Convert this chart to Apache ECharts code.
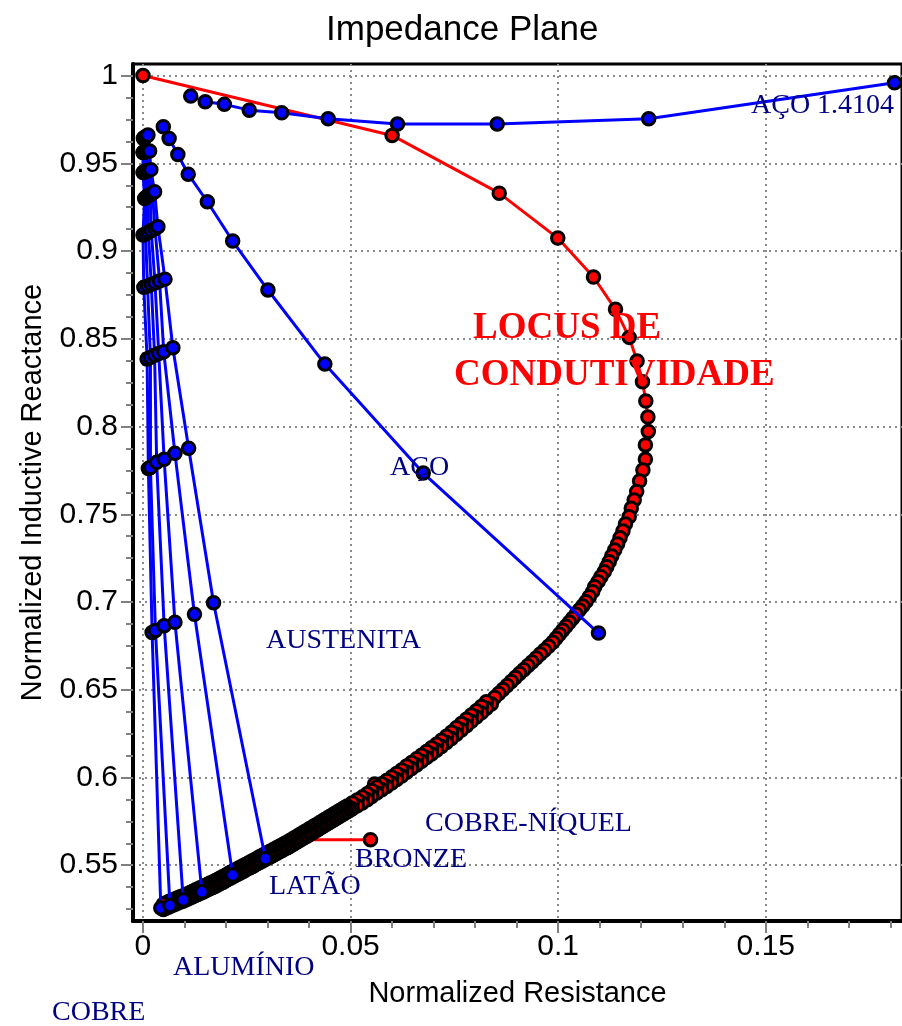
<!DOCTYPE html>
<html>
<head>
<meta charset="utf-8">
<title>Impedance Plane</title>
<script src="https://cdn.jsdelivr.net/npm/echarts@6/dist/echarts.min.js"></script>
<style>
  html, body { margin: 0; padding: 0; background: #ffffff; }
  #chart { width: 902px; height: 1026px; }
</style>
</head>
<body>
<div id="chart"></div>
<script>
// Tick positions of the two axes
const xTicks = [0, 0.05, 0.1, 0.15];
const yTicks = [0.55, 0.6, 0.65, 0.7, 0.75, 0.8, 0.85, 0.9, 0.95, 1];

// Conductivity locus [normalized resistance, normalized reactance]
// (sparse near the air point, very dense towards high conductivity)
const locus = [
  [0.0000, 1.0000], [0.0600, 0.9659], [0.0858, 0.9330], [0.0999, 0.9074], [0.1085, 0.8852],
  [0.1138, 0.8668], [0.1171, 0.8508], [0.1190, 0.8373], [0.1203, 0.8255], [0.1211, 0.8145],
  [0.1216, 0.8054], [0.1217, 0.7972], [0.1210, 0.7895], [0.1210, 0.7813], [0.1204, 0.7752],
  [0.1196, 0.7689], [0.1189, 0.7629], [0.1183, 0.7581], [0.1176, 0.7534], [0.1171, 0.7486],
  [0.1162, 0.7444], [0.1156, 0.7405], [0.1149, 0.7366], [0.1143, 0.7330], [0.1136, 0.7296],
  [0.1129, 0.7262], [0.1123, 0.7230], [0.1117, 0.7201], [0.1111, 0.7173], [0.1103, 0.7144],
  [0.1096, 0.7116], [0.1088, 0.7087], [0.1083, 0.7059], [0.1075, 0.7030], [0.1067, 0.7002],
  [0.1059, 0.6977], [0.1051, 0.6954], [0.1043, 0.6930], [0.1035, 0.6907], [0.1027, 0.6884],
  [0.1019, 0.6862], [0.1011, 0.6839], [0.1003, 0.6816], [0.0995, 0.6793], [0.0987, 0.6770],
  [0.0977, 0.6748], [0.0967, 0.6725], [0.0957, 0.6704], [0.0947, 0.6681], [0.0937, 0.6658],
  [0.0927, 0.6637], [0.0917, 0.6614], [0.0907, 0.6593], [0.0897, 0.6570], [0.0887, 0.6547],
  [0.0877, 0.6524], [0.0867, 0.6501], [0.0857, 0.6479], [0.0847, 0.6456],
  [0.0839, 0.6419], [0.0827, 0.6431], [0.0827, 0.6394], [0.0815, 0.6405], [0.0815, 0.6368],
  [0.0803, 0.6380], [0.0803, 0.6344], [0.0791, 0.6356], [0.0791, 0.6320], [0.0779, 0.6332],
  [0.0779, 0.6295], [0.0767, 0.6307], [0.0767, 0.6271], [0.0755, 0.6283], [0.0755, 0.6246],
  [0.0743, 0.6258], [0.0743, 0.6222], [0.0731, 0.6235], [0.0731, 0.6199], [0.0719, 0.6212],
  [0.0719, 0.6177], [0.0707, 0.6190], [0.0707, 0.6155], [0.0695, 0.6169], [0.0695, 0.6134],
  [0.0683, 0.6148], [0.0683, 0.6113], [0.0671, 0.6127], [0.0671, 0.6092], [0.0659, 0.6106],
  [0.0659, 0.6071], [0.0647, 0.6085], [0.0647, 0.6051], [0.0635, 0.6065], [0.0635, 0.6030],
  [0.0623, 0.6043], [0.0623, 0.6008], [0.0611, 0.6022], [0.0611, 0.5988], [0.0599, 0.6002],
  [0.0599, 0.5968], [0.0587, 0.5983], [0.0587, 0.5949], [0.0575, 0.5964], [0.0558, 0.5963],
  [0.0575, 0.5930], [0.0563, 0.5945], [0.0563, 0.5911], [0.0551, 0.5926], [0.0551, 0.5892],
  [0.0540, 0.5907], [0.0540, 0.5873], [0.0528, 0.5888], [0.0528, 0.5855], [0.0516, 0.5871],
  [0.0516, 0.5838], [0.0504, 0.5854],
  [0.0504, 0.5821], [0.0492, 0.5837], [0.0498, 0.5813], [0.0486, 0.5829],
  [0.0492, 0.5804], [0.0480, 0.5820], [0.0486, 0.5796], [0.0474, 0.5812],
  [0.0480, 0.5787], [0.0468, 0.5803], [0.0474, 0.5779], [0.0462, 0.5795],
  [0.0468, 0.5770], [0.0456, 0.5786], [0.0462, 0.5762], [0.0450, 0.5778],
  [0.0456, 0.5753], [0.0444, 0.5769], [0.0450, 0.5745], [0.0438, 0.5761],
  [0.0444, 0.5736], [0.0432, 0.5752], [0.0438, 0.5728], [0.0426, 0.5743],
  [0.0432, 0.5719], [0.0420, 0.5734], [0.0426, 0.5710], [0.0414, 0.5726],
  [0.0420, 0.5701], [0.0408, 0.5717], [0.0414, 0.5693], [0.0402, 0.5709],
  [0.0408, 0.5684], [0.0396, 0.5700], [0.0402, 0.5676], [0.0390, 0.5692],
  [0.0396, 0.5667], [0.0384, 0.5683], [0.0390, 0.5659], [0.0378, 0.5675],
  [0.0384, 0.5650], [0.0372, 0.5666], [0.0378, 0.5642], [0.0366, 0.5658],
  [0.0372, 0.5633], [0.0360, 0.5649], [0.0366, 0.5625], [0.0354, 0.5641],
  [0.0360, 0.5616], [0.0348, 0.5632], [0.0354, 0.5608], [0.0342, 0.5625],
  [0.0348, 0.5600], [0.0336, 0.5617], [0.0342, 0.5593], [0.0330, 0.5610],
  [0.0336, 0.5585], [0.0324, 0.5602], [0.0330, 0.5578], [0.0318, 0.5594],
  [0.0324, 0.5570], [0.0312, 0.5586], [0.0318, 0.5562], [0.0306, 0.5579],
  [0.0312, 0.5554], [0.0300, 0.5571], [0.0306, 0.5547], [0.0294, 0.5564],
  [0.0300, 0.5539], [0.0288, 0.5556], [0.0294, 0.5532], [0.0282, 0.5549],
  [0.0288, 0.5524], [0.0276, 0.5541], [0.0282, 0.5517], [0.0270, 0.5533],
  [0.0276, 0.5509], [0.0264, 0.5525], [0.0270, 0.5501], [0.0258, 0.5518],
  [0.0264, 0.5493], [0.0252, 0.5510], [0.0258, 0.5486], [0.0246, 0.5503],
  [0.0252, 0.5479], [0.0240, 0.5495], [0.0246, 0.5471], [0.0234, 0.5488],
  [0.0240, 0.5463], [0.0228, 0.5480], [0.0234, 0.5456], [0.0222, 0.5473],
  [0.0228, 0.5448], [0.0216, 0.5465], [0.0222, 0.5441], [0.0210, 0.5458],
  [0.0216, 0.5433], [0.0204, 0.5450], [0.0210, 0.5426], [0.0198, 0.5442],
  [0.0204, 0.5418], [0.0192, 0.5434], [0.0198, 0.5410], [0.0186, 0.5427],
  [0.0192, 0.5402], [0.0180, 0.5419], [0.0186, 0.5395], [0.0174, 0.5412],
  [0.0180, 0.5387], [0.0168, 0.5404], [0.0174, 0.5380], [0.0162, 0.5398],
  [0.0168, 0.5373], [0.0156, 0.5391], [0.0162, 0.5367], [0.0150, 0.5384],
  [0.0156, 0.5360], [0.0144, 0.5377], [0.0150, 0.5353], [0.0138, 0.5371],
  [0.0144, 0.5346], [0.0132, 0.5364], [0.0138, 0.5340], [0.0126, 0.5358],
  [0.0132, 0.5333], [0.0120, 0.5351], [0.0126, 0.5327], [0.0114, 0.5345],
  [0.0120, 0.5320], [0.0108, 0.5338], [0.0114, 0.5314], [0.0102, 0.5332],
  [0.0108, 0.5307], [0.0096, 0.5325], [0.0102, 0.5301], [0.0090, 0.5320],
  [0.0096, 0.5295], [0.0084, 0.5314], [0.0090, 0.5290], [0.0079, 0.5309],
  [0.0084, 0.5284], [0.0073, 0.5303], [0.0079, 0.5279], [0.0067, 0.5297],
  [0.0073, 0.5273], [0.0061, 0.5291], [0.0067, 0.5267], [0.0055, 0.5285],
  [0.0061, 0.5260], [0.0049, 0.5278], [0.0055, 0.5254], [0.0049, 0.5247]
];

// Steel 1.4104 curve
const aco14104 = [
  [0.0115, 0.9883], [0.0150, 0.9851], [0.0196, 0.9836], [0.0256, 0.9803], [0.0334, 0.9788],
  [0.0446, 0.9754], [0.0613, 0.9724], [0.0853, 0.9724], [0.1218, 0.9754], [0.1810, 0.9959]
];

// Steel curve
const aco = [
  [0.0049, 0.9708], [0.0063, 0.9642], [0.0084, 0.9550], [0.0109, 0.9438], [0.0155, 0.9281],
  [0.0216, 0.9057], [0.0301, 0.8778], [0.0438, 0.8356], [0.0675, 0.7735], [0.1097, 0.6823]
];

// Non-magnetic materials, from the top of the plane down to the locus
const cobre = [
  [0.0001, 0.9641], [0.0000, 0.9561], [0.0000, 0.9447], [0.0004, 0.9300], [0.0000, 0.9091],
  [0.0002, 0.8793], [0.0010, 0.8385], [0.0013, 0.7761], [0.0022, 0.6826], [0.0043, 0.5256]
];
const aluminio = [
  [0.0002, 0.9644], [0.0001, 0.9563], [0.0002, 0.9450], [0.0008, 0.9308], [0.0006, 0.9097],
  [0.0011, 0.8801], [0.0018, 0.8394], [0.0018, 0.7766], [0.0030, 0.6838], [0.0065, 0.5270]
];
const latao = [
  [0.0004, 0.9647], [0.0003, 0.9564], [0.0004, 0.9453], [0.0013, 0.9316], [0.0013, 0.9107],
  [0.0020, 0.8810], [0.0028, 0.8406], [0.0033, 0.7796], [0.0051, 0.6865], [0.0097, 0.5302]
];
const bronze = [
  [0.0006, 0.9650], [0.0005, 0.9566], [0.0007, 0.9456], [0.0018, 0.9323], [0.0020, 0.9117],
  [0.0029, 0.8818], [0.0038, 0.8416], [0.0051, 0.7813], [0.0077, 0.6884], [0.0142, 0.5348]
];
const cobreNiquel = [
  [0.0009, 0.9655], [0.0010, 0.9568], [0.0013, 0.9459], [0.0023, 0.9330], [0.0029, 0.9127],
  [0.0040, 0.8829], [0.0050, 0.8426], [0.0077, 0.7847], [0.0124, 0.6930], [0.0216, 0.5444]
];
const austenita = [
  [0.0012, 0.9661], [0.0016, 0.9570], [0.0019, 0.9464], [0.0028, 0.9338], [0.0036, 0.9139],
  [0.0053, 0.8840], [0.0072, 0.8449], [0.0110, 0.7876], [0.0170, 0.6996], [0.0295, 0.5537]
];

// Short red pointer ending in a marker
const bronzePointer = [[0.0402, 0.5645], [0.0548, 0.5645]];

const SANS = '"Liberation Sans", Arial, sans-serif';
const SERIF = '"Liberation Serif", "Times New Roman", serif';
const NAVY = '#000080';
const MARK = 12.5;
const EDGE = 3;

function blueLine(name, data) {
  return {
    name: name,
    type: 'line',
    data: data,
    symbol: 'circle',
    symbolSize: MARK,
    lineStyle: { color: '#0000ff', width: 3 },
    itemStyle: { color: '#0000ff', borderColor: '#000000', borderWidth: EDGE },
    z: 3,
    animation: false
  };
}

function label(text, x, y, size, color, weight) {
  return {
    type: 'text',
    x: x,
    y: y,
    z: 100,
    style: {
      text: text,
      font: (weight || 'normal') + ' ' + size + 'px ' + SERIF,
      fill: color,
      align: 'left',
      verticalAlign: 'middle'
    }
  };
}

const chart = echarts.init(document.getElementById('chart'), null, { renderer: 'canvas' });

const gridLine = { color: '#8a8a8a', width: 2, type: [2, 4] };
const tickLine = { color: '#808080', width: 2 };

chart.setOption({
  backgroundColor: '#ffffff',
  animation: false,
  title: {
    text: 'Impedance Plane',
    left: 326,
    top: 13,
    padding: 0,
    textStyle: { fontFamily: SANS, fontSize: 35, fontWeight: 'normal', color: '#000000' }
  },
  grid: {
    left: 133,
    top: 64,
    width: 773,
    height: 857,
    show: true,
    borderColor: '#000000',
    borderWidth: 3,
    containLabel: false
  },
  xAxis: {
    type: 'value',
    min: -0.0024,
    max: 0.1828,
    splitNumber: 4,
    name: 'Normalized Resistance',
    nameLocation: 'middle',
    nameGap: 58,
    nameTextStyle: { fontFamily: SANS, fontSize: 29, color: '#000000' },
    axisLine: { show: true, onZero: false, lineStyle: { color: '#000000', width: 4 } },
    axisTick: { show: true, length: 12, lineStyle: tickLine, customValues: xTicks },
    minorTick: { show: true, splitNumber: 5, length: 7, lineStyle: tickLine },
    axisLabel: {
      fontFamily: SANS, fontSize: 30, color: '#000000', margin: 11,
      customValues: xTicks
    },
    splitLine: { show: true, lineStyle: gridLine }
  },
  yAxis: {
    type: 'value',
    min: 0.5182,
    max: 1.0066,
    splitNumber: 10,
    name: 'Normalized Inductive Reactance',
    nameLocation: 'middle',
    nameRotate: 90,
    nameGap: 86,
    nameTextStyle: { fontFamily: SANS, fontSize: 29, color: '#000000' },
    axisLine: { show: true, onZero: false, lineStyle: { color: '#000000', width: 4 } },
    axisTick: { show: true, length: 12, lineStyle: tickLine, customValues: yTicks },
    minorTick: { show: true, splitNumber: 4, length: 7, lineStyle: tickLine },
    axisLabel: {
      fontFamily: SANS, fontSize: 30, color: '#000000', margin: 15,
      customValues: yTicks
    },
    splitLine: { show: true, lineStyle: gridLine }
  },
  series: [
    {
      name: 'Locus de condutividade',
      type: 'line',
      data: locus,
      symbol: 'circle',
      symbolSize: MARK,
      lineStyle: { color: '#ff0000', width: 3 },
      itemStyle: { color: '#ff0000', borderColor: '#000000', borderWidth: EDGE },
      z: 2,
      animation: false
    },
    {
      name: 'Bronze',
      type: 'line',
      data: [
        { value: bronzePointer[0], symbol: 'none' },
        { value: bronzePointer[1] }
      ],
      symbol: 'circle',
      symbolSize: MARK,
      lineStyle: { color: '#ff0000', width: 3 },
      itemStyle: { color: '#ff0000', borderColor: '#000000', borderWidth: EDGE },
      z: 2,
      animation: false
    },
    blueLine('Aço 1.4104', aco14104),
    blueLine('Aço', aco),
    blueLine('Cobre', cobre),
    blueLine('Alumínio', aluminio),
    blueLine('Latão', latao),
    blueLine('Bronze', bronze),
    blueLine('Cobre-níquel', cobreNiquel),
    blueLine('Austenita', austenita)
  ],
  graphic: [
    label('AÇO 1.4104', 751, 106, 28, NAVY),
    label('AÇO', 390, 468, 28, NAVY),
    label('AUSTENITA', 266, 641, 28, NAVY),
    label('COBRE-NÍQUEL', 425, 824, 28, NAVY),
    label('BRONZE', 355, 860, 28, NAVY),
    label('LATÃO', 269, 887, 28, NAVY),
    label('ALUMÍNIO', 173, 968, 28, NAVY),
    label('COBRE', 52, 1013, 28, NAVY),
    label('LOCUS DE', 473, 328, 37, '#ff0000', 'bold'),
    label('CONDUTIVIDADE', 454, 375, 37, '#ff0000', 'bold')
  ]
});
</script>
</body>
</html>
